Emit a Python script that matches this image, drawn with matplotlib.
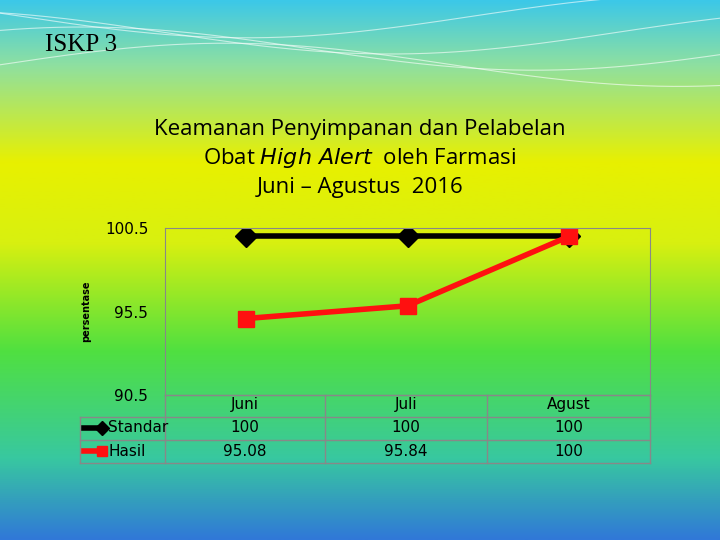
import numpy as np
import matplotlib.pyplot as plt
from matplotlib.colors import LinearSegmentedColormap

months = ["Juni", "Juli", "Agust"]
standar = [100, 100, 100]
hasil = [95.08, 95.84, 100]
standar_lbl = ["100", "100", "100"]
hasil_lbl = ["95.08", "95.84", "100"]

W, H = 720, 540
fig = plt.figure(figsize=(7.2, 5.4), dpi=100)

# slide background gradient
bg = fig.add_axes([0, 0, 1, 1], zorder=-10)
cmap = LinearSegmentedColormap.from_list("bg", [
    (0.0, "#3cc8e8"), (0.12, "#8fe0a0"), (0.3, "#e8f000"), (0.45, "#d8f010"),
    (0.65, "#50e040"), (0.85, "#38c8a0"), (1.0, "#3078d8")])
grad = np.linspace(0, 1, 256).reshape(-1, 1)
bg.imshow(grad, aspect="auto", cmap=cmap, extent=[0, 1, 0, 1], origin="upper")
xs = np.linspace(0, 1, 200)
for k in range(4):
    bg.plot(xs, 0.88 + 0.03 * k + 0.04 * np.sin(xs * 5 + k), color="white", lw=0.8, alpha=0.6)
bg.set_xlim(0, 1); bg.set_ylim(0, 1); bg.axis("off")

fig.text(45 / W, 1 - 45 / H, "ISKP 3", family="Liberation Serif", fontsize=18, va="center")
fig.text(360 / W, 1 - 130 / H, "Keamanan Penyimpanan dan Pelabelan", fontsize=16,
         family="Open Sans", ha="center", va="center")
fig.text(360 / W, 1 - 158 / H, "Obat $\\mathit{High\\ Alert}$  oleh Farmasi", fontsize=16,
         family="Open Sans", ha="center", va="center")
fig.text(360 / W, 1 - 187 / H, "Juni – Agustus  2016", fontsize=16,
         family="Open Sans", ha="center", va="center")

ax = fig.add_axes([165 / W, 1 - 395 / H, 485 / W, 167 / H])
ax.patch.set_alpha(0)
x = np.arange(len(months))
ax.plot(x, standar, color="black", lw=4, marker="D", ms=11)
ax.plot(x, hasil, color="#ff1010", lw=4, marker="s", ms=12)
ax.set_xlim(-0.5, 2.5)
ax.set_ylim(90.5, 100.5)
ax.set_yticks([90.5, 95.5, 100.5])
ax.set_yticklabels(["90.5", "95.5", "100.5"], fontsize=11)
ax.tick_params(axis="y", length=0, pad=12)
ax.set_xticks([])
for s in ax.spines.values():
    s.set_color("#888888")
ax.set_ylabel("persentase", fontsize=7, fontweight="bold", labelpad=10)

# data table
rows_y = [405, 428, 451]
col_x = [165, 325, 487, 650]
lc = "#888888"
for yy in [395, 417, 440, 463]:
    x0 = 165 if yy == 395 else 80
    fig.add_artist(plt.Line2D([x0 / W, 650 / W], [1 - yy / H] * 2, color=lc, lw=1))
for xx in [80] + col_x:
    top = 395 if xx != 80 else 417
    fig.add_artist(plt.Line2D([xx / W] * 2, [1 - top / H, 1 - 463 / H], color=lc, lw=1))
for i, m in enumerate(months):
    cx = (col_x[i] + col_x[i + 1]) / 2 / W
    fig.text(cx, 1 - rows_y[0] / H, m, ha="center", va="center", fontsize=11)
    fig.text(cx, 1 - rows_y[1] / H, standar_lbl[i], ha="center", va="center", fontsize=11)
    fig.text(cx, 1 - rows_y[2] / H, hasil_lbl[i], ha="center", va="center", fontsize=11)
fig.add_artist(plt.Line2D([84 / W, 102 / W], [1 - 428 / H] * 2, color="black", lw=4,
                          marker="D", ms=7, markevery=[1]))
fig.add_artist(plt.Line2D([84 / W, 102 / W], [1 - 451 / H] * 2, color="#ff1010", lw=4,
                          marker="s", ms=7, markevery=[1]))
fig.text(108 / W, 1 - 428 / H, "Standar", va="center", fontsize=11)
fig.text(108 / W, 1 - 451 / H, "Hasil", va="center", fontsize=11)

fig.savefig("out.png", dpi=100)
